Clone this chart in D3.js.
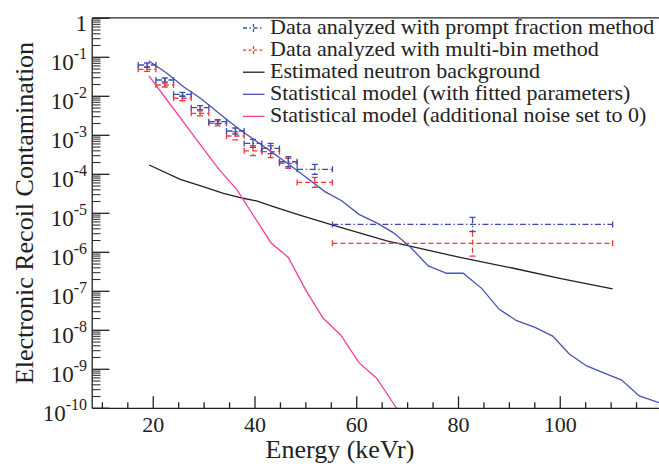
<!DOCTYPE html>
<html>
<head>
<meta charset="utf-8">
<script src="https://cdn.jsdelivr.net/npm/d3@7"></script>
<style>
  body { margin: 0; background: #fff; }
  svg text { font-family: "Liberation Serif", "DejaVu Serif", "Times New Roman", serif; fill: #222; }
</style>
</head>
<body>
<svg id="chart"></svg>
<script>
// energy bins (keVr) shared by both data sets
const binLo = [17.05, 20.52, 23.99, 27.46, 30.93, 34.40, 37.87, 41.34, 44.81, 48.28, 55.22];
const binHi = [20.52, 23.99, 27.46, 30.93, 34.40, 37.87, 41.34, 44.81, 48.28, 55.22, 110.3];

// prompt fraction method
const promptVal = [0.0635, 0.0262, 0.01125, 5.1e-3, 2.23e-3, 1.29e-3, 6.2e-4, 4.6e-4, 2.1e-4, 1.34e-4, 5.2e-6];
const promptLo  = [0.0564, 0.0233, 0.0100, 4.53e-3, 1.98e-3, 1.08e-3, 4.9e-4, 3.4e-4, 1.56e-4, 1.0e-4, 3.45e-6];
const promptHi  = [0.0714, 0.0295, 0.01266, 5.74e-3, 2.51e-3, 1.54e-3, 7.85e-4, 6.2e-4, 2.82e-4, 1.8e-4, 7.9e-6];

// multi-bin method
const multiVal = [0.0492, 0.0195, 8.9e-3, 3.66e-3, 2.03e-3, 9.6e-4, 4.0e-4, 3.8e-4, 1.91e-4, 6.2e-5, 1.70e-6];
const multiLo  = [0.0437, 0.0173, 7.7e-3, 3.16e-3, 1.75e-3, 7.6e-4, 3.0e-4, 2.67e-4, 1.42e-4, 4.6e-5, 8.0e-7];
const multiHi  = [0.0553, 0.0219, 1.03e-2, 4.24e-3, 2.35e-3, 1.22e-3, 5.4e-4, 5.4e-4, 2.57e-4, 8.3e-5, 3.37e-6];

// estimated neutron background
const bgEnergy = [19.2, 25.3, 29.8, 33.8, 37.7, 40.3, 43.6, 48.8, 55.3, 65.9, 80.3, 90.8, 99.9, 110.3];
const bgValue  = [1.73e-4, 7.4e-5, 4.8e-5, 3.26e-5, 2.43e-5, 2.07e-5, 1.48e-5, 9.0e-6, 5.0e-6, 1.95e-6, 7.4e-7, 3.9e-7, 2.15e-7, 1.15e-7];

// statistical model, fitted parameters
const fitEnergy = [19.15, 22.61, 26.03, 29.49, 32.91, 36.45, 39.91, 43.33, 46.83, 50.21, 53.75, 57.03, 60.43, 63.91, 67.17,
                   70.46, 74.05, 77.67, 80.93, 84.55, 88.01, 91.43, 95.03, 98.51, 101.77, 105.19, 108.79, 112.07, 115.53, 119.4];
const fitValue  = [0.0804, 0.0396, 0.0173, 8.5e-3, 3.7e-3, 1.58e-3, 7.6e-4, 3.7e-4, 1.73e-4, 8.0e-5, 3.6e-5, 2.1e-5, 9.4e-6, 5.7e-6, 3.2e-6,
                   1.39e-6, 4.5e-7, 2.9e-7, 2.9e-7, 1.19e-7, 3.45e-8, 1.76e-8, 1.19e-8, 7.1e-9, 2.47e-9, 1.22e-9, 7.9e-10, 5.3e-10, 2.07e-10, 1.39e-10];

// statistical model, additional noise set to 0
const noiseEnergy = [19.15, 22.59, 26.03, 29.47, 32.91, 36.39, 39.79, 43.13, 46.54, 50.15, 53.41, 56.84, 60.43, 63.91, 67.31, 70.75];
const noiseValue  = [0.0332, 8.4e-3, 2.1e-3, 5.3e-4, 1.34e-4, 4.1e-5, 8.4e-6, 1.76e-6, 7.4e-7, 9.8e-8, 2.03e-8, 7.6e-9, 1.48e-9, 5.9e-10, 1.27e-10, 2.8e-11];

const xTicks = [20, 40, 60, 80, 100];
const yExponents = [0, -1, -2, -3, -4, -5, -6, -7, -8, -9, -10];
const legendLabels = [
    "Data analyzed with prompt fraction method",
    "Data analyzed with multi-bin method",
    "Estimated neutron background",
    "Statistical model (with fitted parameters)",
    "Statistical model (additional noise set to 0)"
];

const W = 659, H = 466;
const serif = '"Liberation Serif", "DejaVu Serif", "Times New Roman", serif';
const colBlue = "#3c4cb0", colRed = "#f03a3a", colFit = "#4854b0", colPink = "#f0409c", colBlack = "#222";

const svg = d3.select("#chart").attr("width", W).attr("height", H)
    .attr("font-family", serif);

const x = d3.scaleLinear().domain([8, 120]).range([92.2, 662]);
const y = d3.scaleLog().domain([1e-10, 1]).range([408.3, 18.3]);

svg.append("clipPath").attr("id", "plot")
    .append("rect").attr("x", 92.2).attr("y", 18.3).attr("width", W - 92.2).attr("height", 390);

const plot = svg.append("g").attr("clip-path", "url(#plot)");

// curves
const line = d3.line().x(d => x(d[0])).y(d => y(d[1]));
const curves = [
    { e: bgEnergy, v: bgValue, c: colBlack },
    { e: fitEnergy, v: fitValue, c: colFit },
    { e: noiseEnergy, v: noiseValue, c: colPink }
];
curves.forEach(s => {
    plot.append("path")
        .datum(d3.zip(s.e, s.v))
        .attr("d", line)
        .attr("fill", "none")
        .attr("stroke", s.c)
        .attr("stroke-width", 1.3);
});

// data points with error bars
function drawPoints(val, lo, hi, color, dash) {
    const g = plot.append("g").attr("stroke", color).attr("stroke-width", 1.3).attr("fill", "none");
    val.forEach((v, i) => {
        const x0 = x(binLo[i]), x1 = x(binHi[i]), xc = x((binLo[i] + binHi[i]) / 2);
        const yc = y(v), yt = y(hi[i]), yb = y(lo[i]);
        g.append("line").attr("x1", x0).attr("x2", x1).attr("y1", yc).attr("y2", yc).attr("stroke-dasharray", dash);
        g.append("line").attr("x1", xc).attr("x2", xc).attr("y1", yt).attr("y2", yb).attr("stroke-dasharray", dash);
        [x0, x1].forEach(xx => g.append("line").attr("x1", xx).attr("x2", xx).attr("y1", yc - 3).attr("y2", yc + 3));
        [yt, yb].forEach(yy => g.append("line").attr("x1", xc - 3).attr("x2", xc + 3).attr("y1", yy).attr("y2", yy));
    });
}
drawPoints(multiVal, multiLo, multiHi, colRed, "5,3");
drawPoints(promptVal, promptLo, promptHi, colBlue, "6,2.5,1.5,2.5");

// axes
const axes = svg.append("g").attr("stroke", "#222").attr("stroke-width", 1.3);
axes.append("line").attr("x1", 92.2).attr("x2", W).attr("y1", 408.3).attr("y2", 408.3);
axes.append("line").attr("x1", 92.2).attr("x2", 92.2).attr("y1", 18.3).attr("y2", 408.3);
axes.append("line").attr("x1", 92.2).attr("x2", W).attr("y1", 17.8).attr("y2", 17.8);

d3.range(10, 121, 5).forEach(t => {
    const major = t % 20 === 0;
    axes.append("line").attr("x1", x(t)).attr("x2", x(t))
        .attr("y1", 408.3).attr("y2", 408.3 - (major ? 12 : 6));
});

yExponents.forEach(k => {
    axes.append("line").attr("x1", 92.2).attr("x2", 109.5).attr("y1", y(10 ** k)).attr("y2", y(10 ** k));
    if (k > -10) {
        d3.range(2, 10).forEach(m => {
            const v = m * 10 ** (k - 1);
            axes.append("line").attr("x1", 92.2).attr("x2", 100.5).attr("y1", y(v)).attr("y2", y(v))
                .attr("stroke-width", 1);
        });
    }
});

svg.selectAll(".xlab").data(xTicks).enter().append("text")
    .attr("class", "xlab")
    .attr("x", d => x(d)).attr("y", 432)
    .attr("text-anchor", "middle")
    .style("font-family", serif)
    .style("font-size", "22px")
    .text(d => d);

yExponents.forEach(k => {
    const t = svg.append("text")
        .attr("x", 87).attr("y", y(10 ** k) + 13)
        .attr("text-anchor", "end")
        .style("font-family", serif)
        .style("font-size", "23px");
    if (k === 0) { t.text("1"); return; }
    t.append("tspan").text("10");
    t.append("tspan").attr("dy", -11).style("font-size", "16px").text(k);
});

svg.append("text")
    .attr("x", 340).attr("y", 458)
    .attr("text-anchor", "middle")
    .style("font-family", serif)
    .style("font-size", "26px")
    .text("Energy (keVr)");

svg.append("text")
    .attr("transform", "translate(33,213) rotate(-90)")
    .attr("text-anchor", "middle")
    .style("font-family", serif)
    .style("font-size", "26px")
    .text("Electronic Recoil Contamination");

// legend
const legend = svg.append("g");
legendLabels.forEach((label, i) => {
    const by = 33.5 + i * 22.1, sy = by - 5.5;
    const g = legend.append("g").attr("stroke-width", 1.3).attr("fill", "none");
    if (i < 2) {
        const c = i === 0 ? colBlue : colRed;
        g.append("line").attr("x1", 243).attr("x2", 264).attr("y1", sy).attr("y2", sy)
            .attr("stroke", c).attr("stroke-dasharray", i === 0 ? "4,2.5,1.5,2.5" : "3,2.5");
        g.append("line").attr("x1", 253.5).attr("x2", 253.5).attr("y1", sy - 4).attr("y2", sy + 4)
            .attr("stroke", c).attr("stroke-dasharray", "3,2");
    } else {
        g.append("line").attr("x1", 243).attr("x2", 264.5).attr("y1", sy).attr("y2", sy)
            .attr("stroke", [colBlack, colFit, colPink][i - 2]);
    }
    legend.append("text")
        .attr("x", 270).attr("y", by)
        .style("font-family", serif)
        .style("font-size", "22px")
        .text(label);
});
</script>
</body>
</html>
